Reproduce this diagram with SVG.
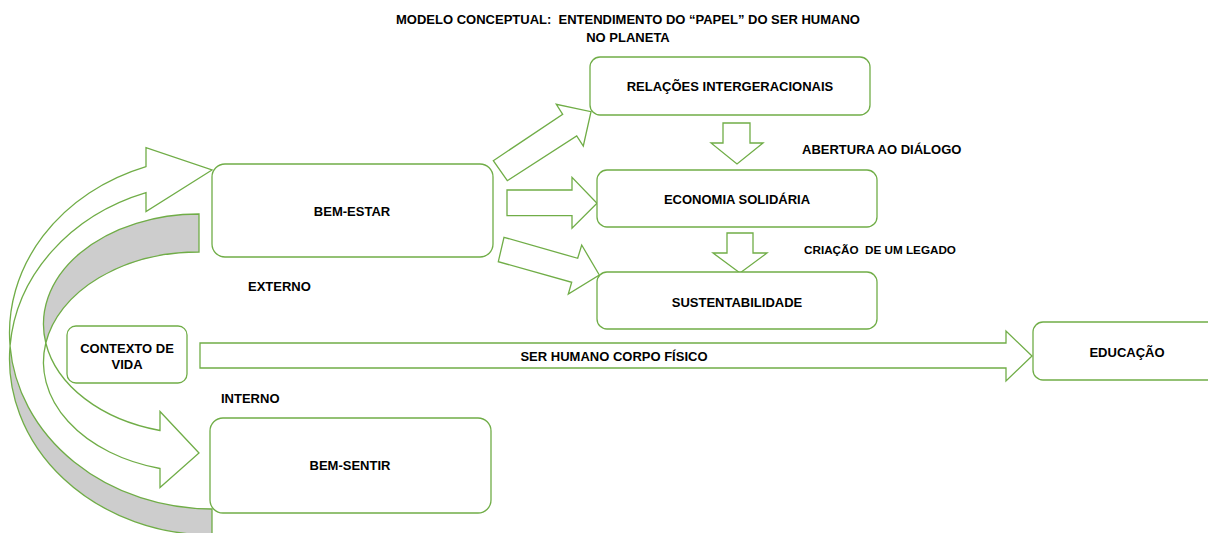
<svg xmlns="http://www.w3.org/2000/svg" width="1208" height="533" viewBox="0 0 1208 533">
<style>
.box{fill:#fff;stroke:#70AD47;stroke-width:1.3}
.arr{fill:#fff;stroke:#70AD47;stroke-width:1.3;stroke-linejoin:miter}
.shade{fill:#CDCDCD;stroke:#70AD47;stroke-width:1.3}
text{font-family:"Liberation Sans",Arial,sans-serif;font-weight:bold;font-size:13px;fill:#000;white-space:pre}
.c{text-anchor:middle}
.sm{font-size:11.7px}
</style>
<rect width="1208" height="533" fill="#fff"/>
<g id="title">
<text class="c" x="628" y="24">MODELO CONCEPTUAL:  ENTENDIMENTO DO “PAPEL” DO SER HUMANO</text>
<text class="c" x="628" y="42">NO PLANETA</text>
</g>
<g id="connectors">
<path class="shade" d="M212,535 A202.5,176 0 0 1 10.05,346 A202.5,176 0 0 0 212,509 Z"/>
<path class="arr" d="M10.05,346 A202.5,176 0 0 1 146,166.6 L146,147.6 L212,170 L146,211.6 L146,192.6 A202.5,176 0 0 0 10.05,346 Z"/>
<path class="shade" d="M199,214 A155.5,110 0 0 0 45.8,343 A155.5,110 0 0 1 199,252 Z"/>
<path class="arr" d="M45.8,343 A155.5,110 0 0 0 160,468.5 L160,487.5 L199,453 L160,411.5 L160,430.5 A155.5,110 0 0 1 45.8,343 Z"/>
<polygon class="arr" points="493.3,160.7 562.7,114.3 556.3,104.3 591,111.7 583.3,146 576.7,136 507.3,180.7"/>
<polygon class="arr" points="507,190 572,190 572,177.3 597,203.3 572,228.3 572,215.7 507,215.7"/>
<polygon class="arr" points="504,237.3 577.7,258.3 581.7,245 599.3,275 568.3,294 571.7,282.3 498.3,261.7"/>
<polygon class="arr" points="723,123 750,123 750,143 763,143 737,164 711,143 723,143"/>
<polygon class="arr" points="727,233 753,233 753,253 767,253 740,273 713,253 727,253"/>
<polygon class="arr" points="200,343 1006,343 1006,331 1032,356 1006,381 1006,368 200,368"/>
</g>
<g id="n-relacoes"><rect class="box" x="590" y="57" width="280" height="58" rx="10"/><text class="c" x="730" y="91">RELAÇÕES INTERGERACIONAIS</text></g>
<g id="n-economia"><rect class="box" x="597" y="170" width="280" height="57" rx="10"/><text class="c" x="737" y="204">ECONOMIA SOLIDÁRIA</text></g>
<g id="n-sustentabilidade"><rect class="box" x="597" y="272" width="280" height="57" rx="10"/><text class="c" x="737" y="307">SUSTENTABILIDADE</text></g>
<g id="n-bemestar"><rect class="box" x="212" y="164" width="281" height="93" rx="13"/><text class="c" x="352" y="216">BEM-ESTAR</text></g>
<g id="n-bemsentir"><rect class="box" x="210" y="418" width="281" height="95" rx="13"/><text class="c" x="350" y="470">BEM-SENTIR</text></g>
<g id="n-contexto"><rect class="box" x="67" y="326" width="120" height="57" rx="9"/><text class="c" x="127" y="353">CONTEXTO DE</text><text class="c" x="127" y="369">VIDA</text></g>
<g id="n-educacao"><rect class="box" x="1033" y="322" width="185" height="58" rx="10"/><text class="c" x="1127" y="357">EDUCAÇÃO</text></g>
<g id="labels">
<text x="802" y="154">ABERTURA AO DIÁLOGO</text>
<text class="sm" x="804" y="254">CRIAÇÃO  DE UM LEGADO</text>
<text x="248" y="291">EXTERNO</text>
<text x="221" y="403">INTERNO</text>
<text class="c" x="614" y="361">SER HUMANO CORPO FÍSICO</text>
</g>
</svg>
